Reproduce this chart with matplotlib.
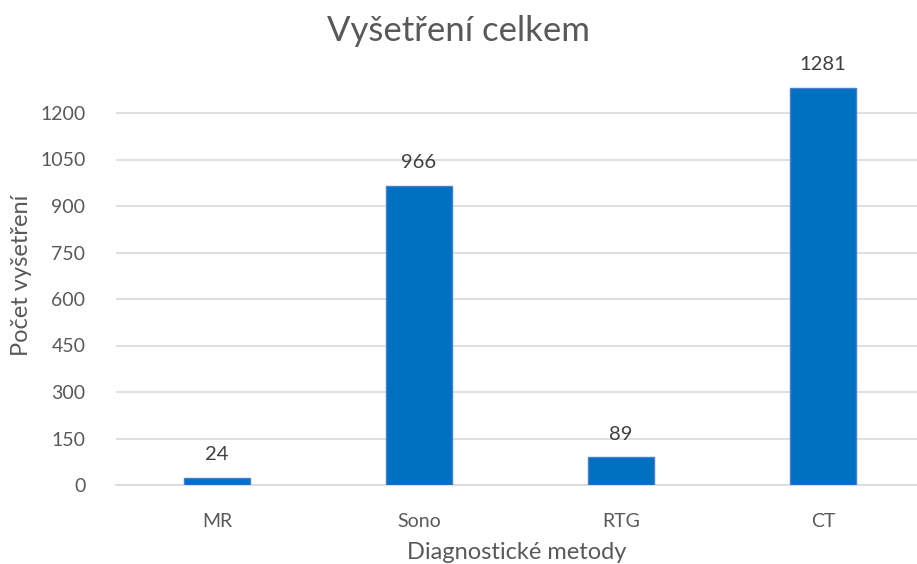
import matplotlib
matplotlib.use("Agg")
import matplotlib.pyplot as plt

# data
methods = ["MR", "Sono", "RTG", "CT"]
counts = [24, 966, 89, 1281]
y_ticks = [0, 150, 300, 450, 600, 750, 900, 1050, 1200]

plt.rcParams["font.family"] = ["Lato", "DejaVu Sans"]
TXT = "#595959"

fig = plt.figure(figsize=(9.17, 5.64), dpi=100)
ax = fig.add_axes([116 / 917, 79 / 564, 801 / 917, 418.5 / 564])

x = range(len(methods))
bars = ax.bar(x, counts, width=0.33, color="#0070C0", edgecolor="#4A7FD0", linewidth=1.0, zorder=3)

for b, v in zip(bars, counts):
    ax.text(b.get_x() + b.get_width() / 2, v + 48, str(v), ha="center", va="bottom",
            fontsize=14.5, color="#404040")

ax.set_xlim(-0.5, 3.465)
ax.set_ylim(0, 1350)
ax.set_yticks(y_ticks)
ax.set_xticks(list(x))
ax.set_xticklabels(methods)
ax.yaxis.grid(True, color="#D9D9D9", linewidth=1.2, zorder=0)
ax.tick_params(axis="both", length=0, labelsize=14, labelcolor=TXT)
ax.tick_params(axis="x", pad=20)
ax.tick_params(axis="y", pad=22)
for s in ["top", "right", "left"]:
    ax.spines[s].set_visible(False)
ax.spines["bottom"].set_color("#D9D9D9")
ax.spines["bottom"].set_linewidth(1.2)

ax.set_xlabel("Diagnostické metody", fontsize=17, color=TXT, labelpad=9)
ax.set_ylabel("Počet vyšetření", fontsize=17, color=TXT, labelpad=6)
fig.text(0.5, 0.945, "Vyšetření celkem", ha="center", va="center", fontsize=25, color=TXT)

fig.savefig("out.png", dpi=100)
